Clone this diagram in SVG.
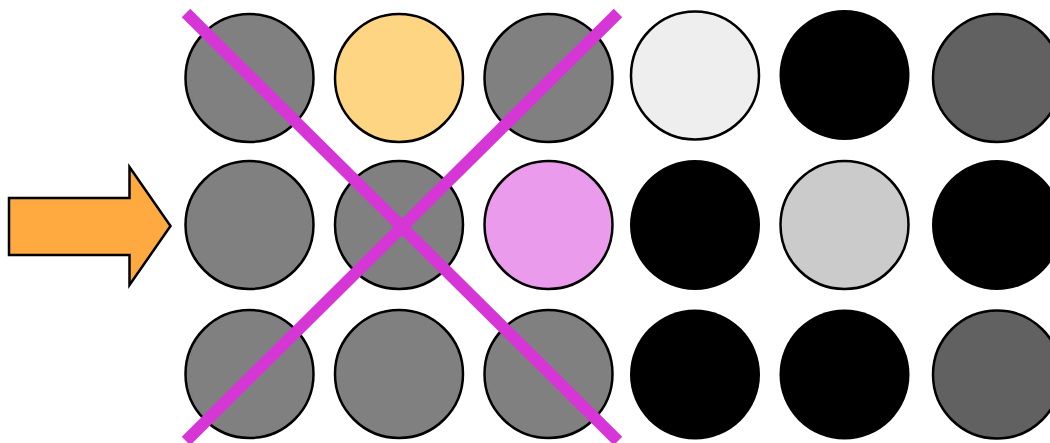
<svg xmlns="http://www.w3.org/2000/svg" width="1050" height="443" viewBox="0 0 1050 443">
<style>
.c{stroke:#000;stroke-width:2.5}
.n{stroke:none}
.g{fill:#808080}
.d{fill:#616161}
.k{fill:#000}
.x{stroke:#d636d6;stroke-width:12;stroke-linecap:butt;fill:none}
</style>
<rect width="1050" height="443" fill="#fff"/>
<g id="arrow">
<path d="M9,198 L129.5,198 L129.5,167 L170.5,226 L129.5,285 L129.5,255 L9,255 Z" fill="#ffaa40" stroke="#000" stroke-width="2.5" stroke-linejoin="miter"/>
</g>
<g id="r1c1"><circle class="c g" cx="249.5" cy="78" r="64"/></g>
<g id="r1c2"><circle class="c" cx="399" cy="78" r="64" fill="#fed583"/></g>
<g id="r1c3"><circle class="c g" cx="548.5" cy="78" r="64"/></g>
<g id="r1c4"><circle class="c" cx="695" cy="75.5" r="64" fill="#eeeeee"/></g>
<g id="r1c5"><circle class="n k" cx="844.5" cy="75" r="65"/></g>
<g id="r1c6"><circle class="c d" cx="997" cy="78" r="64"/></g>
<g id="r2c1"><circle class="c g" cx="249.5" cy="225" r="64"/></g>
<g id="r2c2"><circle class="c g" cx="399" cy="225" r="64"/></g>
<g id="r2c3"><circle class="c" cx="548.5" cy="225" r="64" fill="#eb9beb"/></g>
<g id="r2c4"><circle class="n k" cx="695" cy="225" r="65"/></g>
<g id="r2c5"><circle class="c" cx="844.5" cy="225" r="64" fill="#cbcbcb"/></g>
<g id="r2c6"><circle class="n k" cx="997" cy="225" r="65"/></g>
<g id="r3c1"><circle class="c g" cx="249.5" cy="374" r="64"/></g>
<g id="r3c2"><circle class="c g" cx="399" cy="374" r="64"/></g>
<g id="r3c3"><circle class="c g" cx="548.5" cy="374" r="64"/></g>
<g id="r3c4"><circle class="n k" cx="695" cy="374.5" r="65"/></g>
<g id="r3c5"><circle class="n k" cx="844.5" cy="374.5" r="65"/></g>
<g id="r3c6"><circle class="c d" cx="997" cy="374.5" r="64"/></g>
<g id="connectors">
<line class="x" x1="186" y1="13" x2="618" y2="441"/>
<line class="x" x1="618" y1="13" x2="186" y2="441"/>
</g>
</svg>
